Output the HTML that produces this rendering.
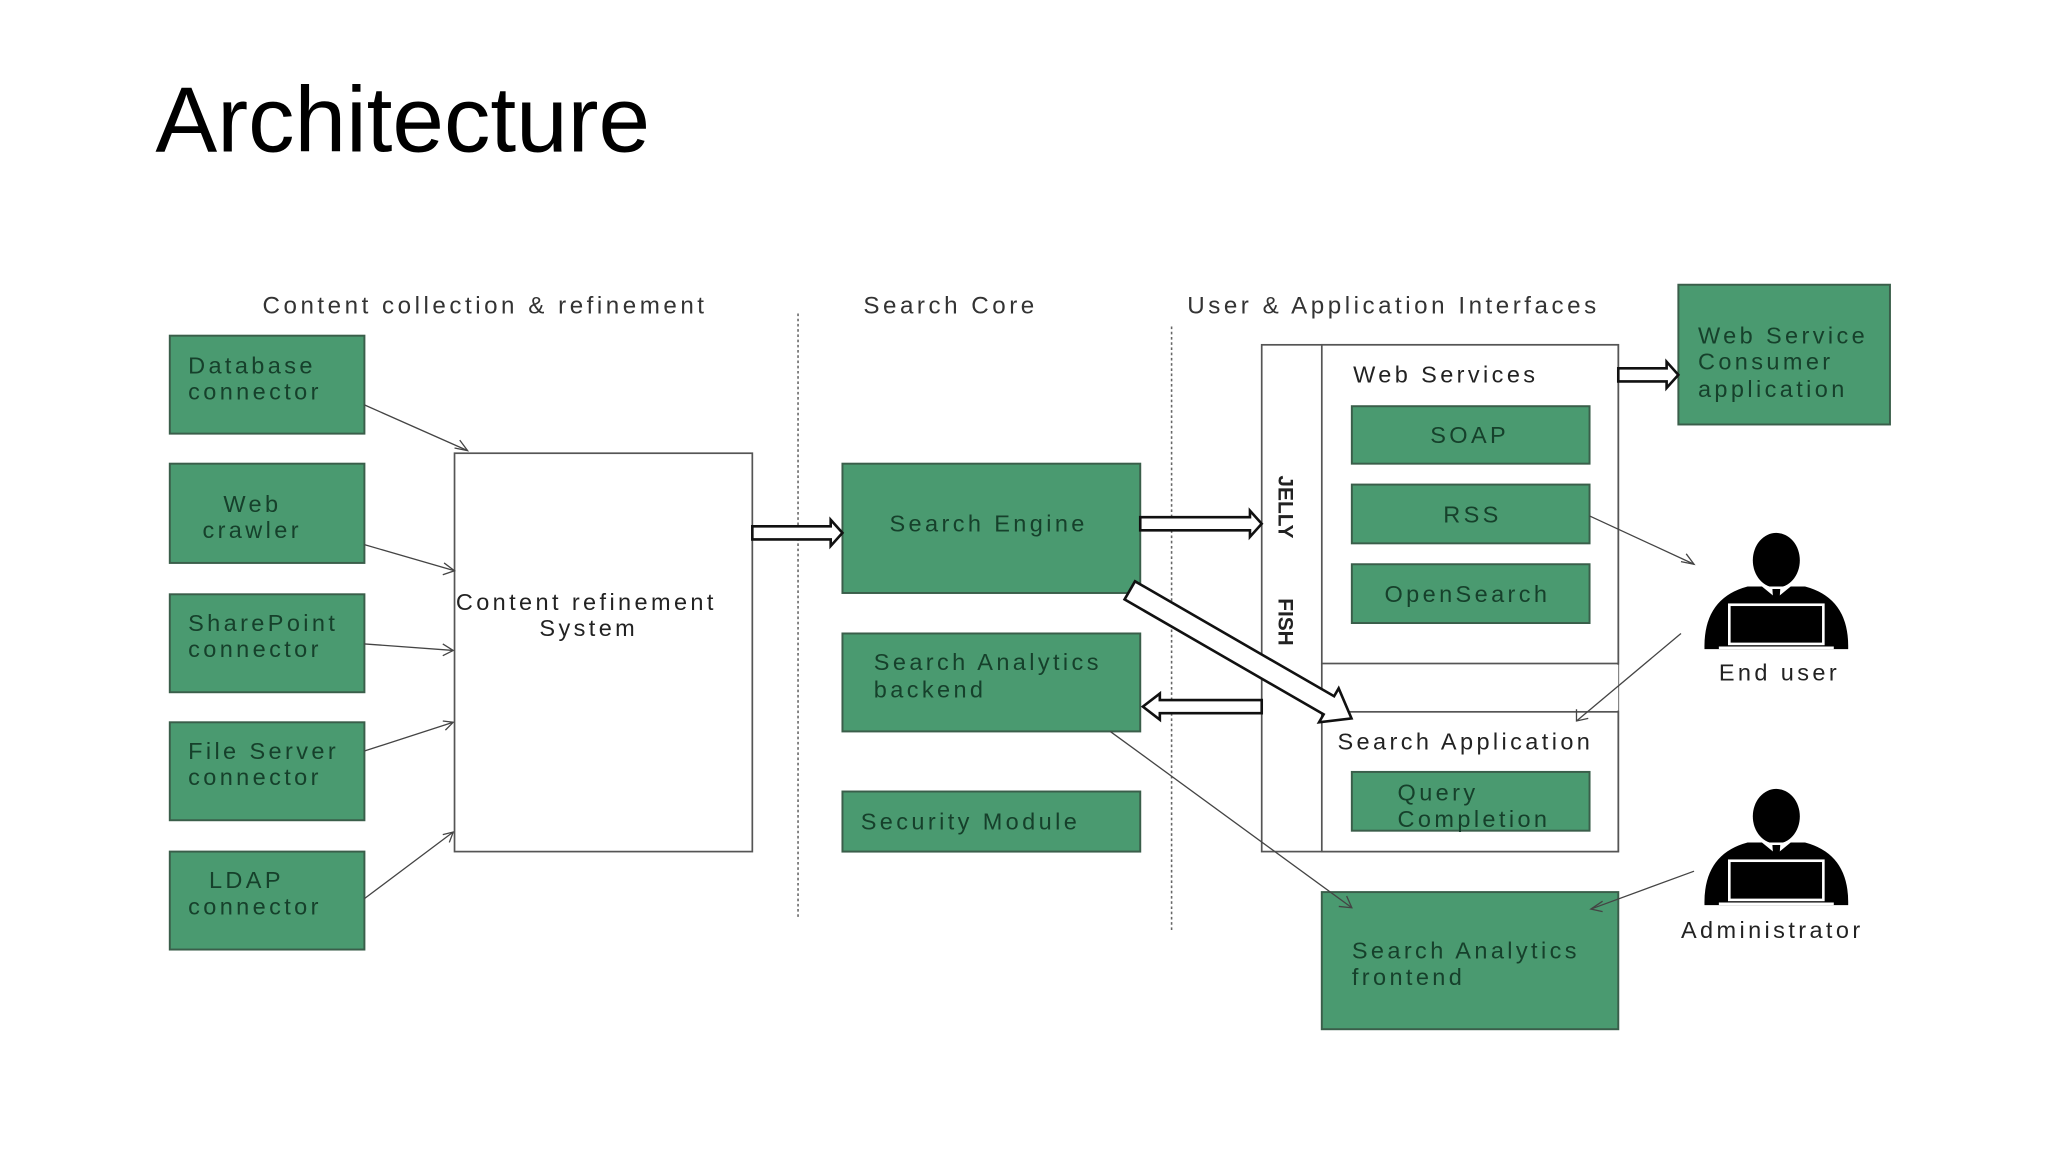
<!DOCTYPE html>
<html><head><meta charset="utf-8"><style>
html,body{margin:0;padding:0;background:#fff;width:2048px;height:1152px;overflow:hidden}
svg{display:block}
text{font-family:"Liberation Sans",sans-serif}
.g{fill:#4a9a70;stroke:#3a5e4a;stroke-width:1.5}
.t{fill:#16402b;font-size:18px;letter-spacing:2.6px}
.d{fill:#222;font-size:18px;letter-spacing:2.6px}
.w{fill:#fff;stroke:#555;stroke-width:1.3}
.ba{fill:#fff;stroke:#111;stroke-width:2}
.ln{stroke:#444;stroke-width:1;fill:none}
.hd{fill:none;stroke:#444;stroke-width:1}
.lab{fill:#333;font-size:18.5px;letter-spacing:2.7px}
</style></head><body>
<svg width="2048" height="1152" viewBox="0 0 1568 882" xmlns="http://www.w3.org/2000/svg">
<text x="119" y="116" font-size="71" fill="#000">Architecture</text>

<text x="201" y="240" class="lab">Content collection &amp; refinement</text>
<text x="661" y="240" class="lab">Search Core</text>
<text x="909" y="240" class="lab">User &amp; Application Interfaces</text>

<line x1="611" y1="240" x2="611" y2="703" stroke="#666" stroke-width="1.2" stroke-dasharray="2,2"/>
<line x1="897" y1="250" x2="897" y2="712" stroke="#666" stroke-width="1.2" stroke-dasharray="2,2"/>

<rect class="g" x="130" y="257" width="149" height="75"/>
<text class="t" x="144" y="286">Database</text><text class="t" x="144" y="306">connector</text>
<rect class="g" x="130" y="355" width="149" height="76"/>
<text class="t" x="171" y="392">Web</text><text class="t" x="155" y="412">crawler</text>
<rect class="g" x="130" y="455" width="149" height="75"/>
<text class="t" x="144" y="483">SharePoint</text><text class="t" x="144" y="503">connector</text>
<rect class="g" x="130" y="553" width="149" height="75"/>
<text class="t" x="144" y="581">File Server</text><text class="t" x="144" y="601">connector</text>
<rect class="g" x="130" y="652" width="149" height="75"/>
<text class="t" x="160" y="680">LDAP</text><text class="t" x="144" y="700">connector</text>

<rect class="w" x="348" y="347" width="228" height="305"/>
<text class="d" x="349" y="467">Content  refinement</text>
<text class="d" x="413" y="487">System</text>

<rect class="g" x="645" y="355" width="228" height="99"/>
<text class="t" x="681" y="407">Search Engine</text>
<rect class="g" x="645" y="485" width="228" height="75"/>
<text class="t" x="669" y="513">Search Analytics</text><text class="t" x="669" y="534">backend</text>
<rect class="g" x="645" y="606" width="228" height="46"/>
<text class="t" x="659" y="635">Security Module</text>

<rect class="w" x="966" y="264" width="273" height="388"/>
<rect class="w" x="1012" y="264" width="227" height="244"/>
<rect class="w" x="1012" y="545" width="227" height="107"/>
<line x1="1012" y1="508" x2="1012" y2="545" stroke="#555" stroke-width="1.3"/>
<rect x="1013" y="509" width="226" height="35" fill="#fff"/>
<text class="d" x="1036" y="293">Web Services</text>
<text transform="translate(979,364) rotate(90)" style="fill:#222;font-size:16px;font-weight:bold">JELLY</text>
<text transform="translate(979,458) rotate(90)" style="fill:#222;font-size:16px;font-weight:bold">FISH</text>
<rect class="g" x="1035" y="311" width="182" height="44"/>
<text class="t" x="1095" y="339">SOAP</text>
<rect class="g" x="1035" y="371" width="182" height="45"/>
<text class="t" x="1105" y="400">RSS</text>
<rect class="g" x="1035" y="432" width="182" height="45"/>
<text class="t" x="1060" y="461">OpenSearch</text>
<text class="d" x="1024" y="574">Search  Application</text>
<rect class="g" x="1035" y="591" width="182" height="45"/>
<text class="t" x="1070" y="613">Query</text><text class="t" x="1070" y="633">Completion</text>

<rect class="g" x="1285" y="218" width="162" height="107"/>
<text class="t" x="1300" y="263">Web Service</text><text class="t" x="1300" y="283">Consumer</text><text class="t" x="1300" y="304">application</text>

<rect class="g" x="1012" y="683" width="227" height="105"/>
<text class="t" x="1035" y="734">Search Analytics</text><text class="t" x="1035" y="754">frontend</text>

<g class="ln">
<line x1="279" y1="310" x2="358" y2="345"/>
<line x1="279" y1="417" x2="348" y2="437"/>
<line x1="279" y1="493" x2="347" y2="498"/>
<line x1="279" y1="575" x2="347" y2="553"/>
<line x1="279" y1="688" x2="347" y2="637"/>
<line x1="1217" y1="395" x2="1297" y2="432"/>
<line x1="1287" y1="485" x2="1207" y2="552"/>
<line x1="850" y1="560" x2="1035" y2="695"/>
<line x1="1297" y1="667" x2="1218" y2="696"/>
</g>
<g class="hd">
<path d="M348,343 L358,345 L352,337"/>
<path d="M340,431 L348,437 L339,440"/>
<path d="M339,493 L347,498 L339,502"/>
<path d="M339,552 L347,553 L341,559"/>
<path d="M339,639 L347,637 L344,645"/>
<path d="M1287,430 L1297,432 L1291,424"/>
<path d="M1207,543 L1207,552 L1216,550"/>
<path d="M1025,694 L1035,695 L1031,686"/>
<path d="M1227,690 L1218,696 L1227,698"/>
</g>

<polygon class="ba" points="576,403 636,403 636,398 645,408 636,418 636,413 576,413"/>
<polygon class="ba" points="873,396 957,396 957,391 966,401 957,411 957,406 873,406"/>
<polygon class="ba" points="1239,282 1276,282 1276,277 1285,287 1276,297 1276,292 1239,292"/>
<polygon class="ba" points="966,536 888,536 888,531 875,541 888,551 888,546 966,546"/>
<g transform="translate(865,452) rotate(30)">
<polygon class="ba" points="0,-8 176,-8 176,-15 196,0 176,15 176,8 0,8"/>
</g>

<g>
<ellipse cx="1360" cy="429" rx="18" ry="21" fill="#000"/>
<path d="M1305,497 Q1304,458 1338,449 L1382,449 Q1416,458 1415,497 Z" fill="#000"/>
<polygon points="1349,449 1360,458 1371,449" fill="#fff"/>
<polygon points="1357,451 1363,451 1362,466 1358,466" fill="#000"/>
<rect x="1324" y="463" width="72" height="30" fill="#000" stroke="#fff" stroke-width="2"/>
<line x1="1316" y1="496" x2="1404" y2="496" stroke="#fff" stroke-width="2"/>
</g>
<text class="d" x="1316" y="521">End user</text>
<g transform="translate(0,196)">
<ellipse cx="1360" cy="429" rx="18" ry="21" fill="#000"/>
<path d="M1305,497 Q1304,458 1338,449 L1382,449 Q1416,458 1415,497 Z" fill="#000"/>
<polygon points="1349,449 1360,458 1371,449" fill="#fff"/>
<polygon points="1357,451 1363,451 1362,466 1358,466" fill="#000"/>
<rect x="1324" y="463" width="72" height="30" fill="#000" stroke="#fff" stroke-width="2"/>
<line x1="1316" y1="496" x2="1404" y2="496" stroke="#fff" stroke-width="2"/>
</g>
<text class="d" x="1287" y="718">Administrator</text>
</svg>
</body></html>
